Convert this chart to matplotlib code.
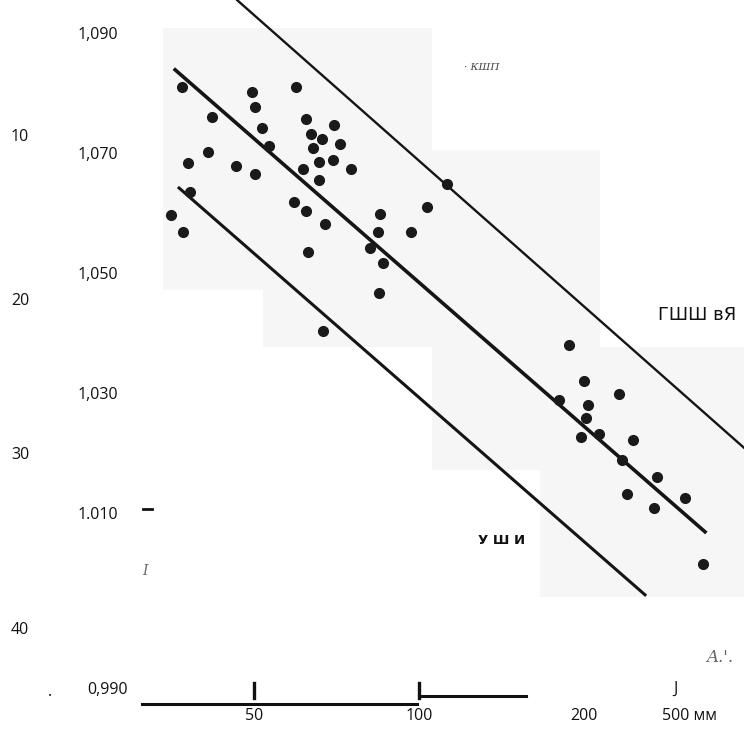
import numpy as np
import matplotlib
matplotlib.use("Agg")
import matplotlib.pyplot as plt
from matplotlib.patches import Rectangle
from matplotlib.transforms import blended_transform_factory

# width (mm, log scale) vs density
x_mm = [36.9, 49.6, 59.6, 50.2, 41.9, 62.2, 70.0, 51.7, 63.5, 66.5,
        71.8, 53.3, 64.1, 41.2, 37.9, 65.7, 69.7, 75.1, 46.4, 61.4,
        50.2, 65.7, 38.2, 59.2, 62.2, 35.3, 67.4, 37.1, 81.4, 62.7,
        66.8, 84.9, 84.2, 96.7, 103.4, 112.5, 86.0, 84.5, 187.8, 200.0,
        231.7, 180.1, 203.4, 201.7, 197.5, 213.0, 245.7, 234.6, 271.8, 239.6,
        305.7, 268.4, 329.7]
density = [1.0813, 1.0805, 1.0813, 1.0780, 1.0763, 1.0760, 1.0750, 1.0745, 1.0735, 1.0727,
           1.0718, 1.0715, 1.0712, 1.0705, 1.0687, 1.0688, 1.0692, 1.0677, 1.0682, 1.0677,
           1.0668, 1.0658, 1.0638, 1.0622, 1.0607, 1.0600, 1.0585, 1.0572, 1.0545, 1.0538,
           1.0407, 1.0602, 1.0572, 1.0572, 1.0613, 1.0652, 1.0520, 1.0470, 1.0383, 1.0323,
           1.0302, 1.0292, 1.0283, 1.0262, 1.0230, 1.0235, 1.0225, 1.0192, 1.0163, 1.0135,
           1.0128, 1.0112, 1.0018]

# three boundary lines: (x start, x end), (y start, y end)
upper_x, upper_y = [46.6, 391.7], [1.0958, 1.0212]
middle_x, middle_y = [35.9, 332.5], [1.0842, 1.0072]
lower_x, lower_y = [36.5, 258.4], [1.0645, 0.9967]

y_ticks = [1.090, 1.070, 1.050, 1.030, 1.010]
y_tick_labels = ["1,090", "1,070", "1,050", "1,030", "1.010"]
x_ticks = [50, 100, 200]
x_tick_labels = ["50", "100", "200"]
left_scale_labels = ["10", "20", "30", "40"]

W, H = 744, 730
fig = plt.figure(figsize=(W / 100, H / 100), dpi=100)
ax = fig.add_axes([0, 0, 1, 1])
ax.set_xscale("log")
ax.set_xlim(100 * 2 ** (-419 / 165), 100 * 2 ** (325 / 165))
ax.set_ylim(1.090 - 695 / 6000, 1.090 + 35 / 6000)
ax.axis("off")


def fx(px):
    return px / W


def fy(py):
    return 1 - py / H


# faint show-through of the printed page behind
for x0, y0, x1, y1 in [(163, 28, 432, 150), (163, 150, 600, 290),
                       (263, 290, 600, 347), (432, 347, 744, 470), (540, 470, 744, 597)]:
    ax.add_patch(Rectangle((fx(x0), fy(y1)), fx(x1) - fx(x0), fy(y0) - fy(y1),
                           transform=ax.transAxes, color="#f6f6f6", lw=0, zorder=0))

ax.plot(upper_x, upper_y, color="#151515", lw=1.7, zorder=2)
ax.plot(middle_x, middle_y, color="#151515", lw=2.6, zorder=2)
ax.plot(lower_x, lower_y, color="#151515", lw=2.2, zorder=2)
ax.plot(x_mm, density, "o", color="#1a1a1a", ms=7.0, mec="#1a1a1a", zorder=3)

fs = 11.5
tr_y = blended_transform_factory(ax.transAxes, ax.transData)
for v, lab in zip(y_ticks, y_tick_labels):
    ax.text(fx(118), v, lab, transform=tr_y, ha="right", va="center",
            fontsize=fs, family="Open Sans", color="#111")
ax.text(fx(128), fy(690), "0,990", transform=ax.transAxes, ha="right", va="center",
        fontsize=fs, family="Open Sans", color="#111")
ax.text(fx(50), fy(692), ".", transform=ax.transAxes, ha="center", va="center",
        fontsize=fs, family="Open Sans", color="#111")
for py, lab in zip([137, 301, 455, 630], left_scale_labels):
    ax.text(fx(20), fy(py), lab, transform=ax.transAxes, ha="center", va="center",
            fontsize=fs, family="Open Sans", color="#111")

# bottom scale
tr_x = blended_transform_factory(ax.transData, ax.transAxes)
ax.plot([100 * 2 ** ((142 - 419) / 165), 99], [fy(704), fy(704)], transform=tr_x,
        color="#111", lw=2.2, clip_on=False)
ax.plot([100, 100 * 2 ** ((526 - 419) / 165)], [fy(696), fy(696)], transform=tr_x,
        color="#111", lw=2.2, clip_on=False)
for v in [50, 100]:
    ax.plot([v, v], [fy(683), fy(698)], transform=tr_x, color="#111", lw=2.4)
for v, lab in zip(x_ticks, x_tick_labels):
    ax.text(v, fy(716), lab, transform=tr_x, ha="center", va="center",
            fontsize=fs, family="Open Sans", color="#111")
ax.text(fx(690), fy(716), "500 мм", transform=ax.transAxes, ha="center", va="center",
        fontsize=fs, family="Open Sans", color="#111")
ax.text(fx(675), fy(689), "J", transform=ax.transAxes, ha="center", va="center",
        fontsize=fs, family="Open Sans", color="#111")

# stray marks and labels
ax.plot([fx(143), fx(152)], [fy(509), fy(509)], transform=ax.transAxes, color="#111", lw=2)
ax.text(fx(145), fy(571), "I", transform=ax.transAxes, ha="center", va="center",
        fontsize=10, family="DejaVu Serif", style="italic", color="#666")
ax.text(fx(697), fy(315), "ГШШ вЯ", transform=ax.transAxes, ha="center", va="center",
        fontsize=13, family="DejaVu Sans", color="#111")
ax.text(fx(502), fy(540), "У Ш И", transform=ax.transAxes, ha="center", va="center",
        fontsize=9.5, family="DejaVu Sans", weight="bold", color="#111")
ax.text(fx(482), fy(68), "· КШП", transform=ax.transAxes, ha="center", va="center",
        fontsize=7.5, family="DejaVu Serif", style="italic", color="#444")
ax.text(fx(720), fy(657), "A.'.", transform=ax.transAxes, ha="center", va="center",
        fontsize=12, family="DejaVu Serif", style="italic", color="#666")

fig.savefig("out.png", dpi=100)
